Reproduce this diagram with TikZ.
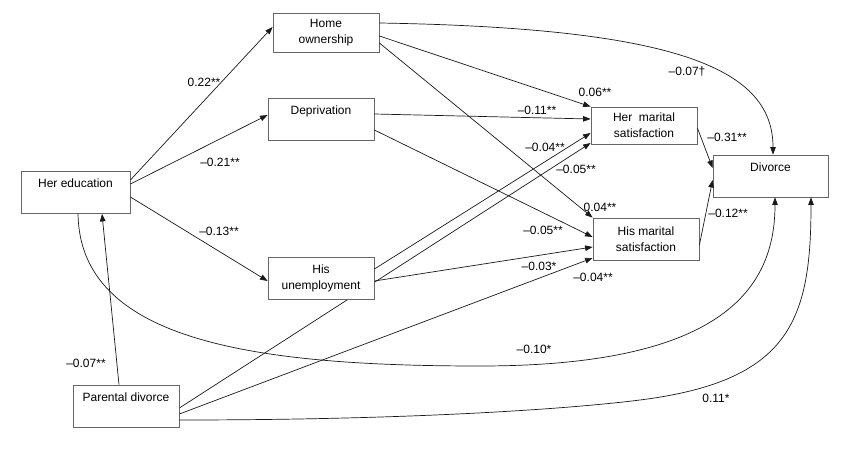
\documentclass[tikz,border=0pt]{standalone}
\usepackage{fontspec}
\setmainfont{Liberation Sans}
\usetikzlibrary{arrows.meta,backgrounds}
\begin{document}
\begin{tikzpicture}[x = 1pt, y = -1pt, >={Triangle[length = 7.5pt, width = 5.5pt]},
  every node/.style = {font = \fontsize{12}{16}\selectfont},
  onebox/.style = {draw = boxgray, fill = white, line width = 0.8pt, inner sep = 0pt, text height = 16pt, text depth = 26pt, minimum width = 106pt},
  twobox/.style = {draw = boxgray, fill = white, line width = 0.8pt, inner sep = 0pt, align = center, minimum width = 106pt, minimum height = 42pt},
  link/.style = {->, line width = 0.7pt, draw = linegray},
  coef/.style = {inner sep = 0pt}]
\definecolor{boxgray}{gray}{0.4}
\definecolor{linegray}{gray}{0.1}
\useasboundingbox (0,0) rectangle (850,452);
\node[onebox, minimum width = 109pt] (hered) at (75.5,192.5) {Her education};
\node[twobox, minimum height = 39pt] (home) at (326,32.5) {Home\\ownership};
\node[onebox] (depr) at (321,119) {Deprivation};
\node[twobox] (unemp) at (321,278) {His\\unemployment};
\node[onebox] (pardiv) at (126,406) {Parental divorce};
\node[twobox, minimum height = 37pt] (hersat) at (644,125.5) {Her\ \ marital\\satisfaction};
\node[twobox] (hissat) at (646,239) {His marital\\satisfaction};
\node[onebox, minimum width = 115pt] (divorce) at (770.5,176) {Divorce};
\draw[link] ([yshift = 12.5pt]hered.east) -- ([yshift = 5.5pt]home.west);
\draw[link] ([yshift = 8.5pt]hered.east) -- ([yshift = 4pt]depr.west);
\draw[link] ([yshift = -4.5pt]hered.east) -- ([yshift = -3pt]unemp.west);
\draw[link] ([xshift = -7pt]pardiv.north) -- ([xshift = 26.5pt]hered.south);
\draw[link] ([yshift = 9.5pt]home.east) .. controls +(301,5) and +(0,-85) .. ([xshift = 2.5pt]divorce.north);
\draw[link] ([yshift = -3.5pt]home.east) -- (hersat.north west);
\draw[link] ([yshift = -10.5pt]home.east) -- (hissat.north west);
\draw[link] ([yshift = 5pt]depr.east) -- ([yshift = 6.5pt]hersat.west);
\draw[link] ([yshift = -11pt]depr.east) -- ([yshift = 2pt]hissat.west);
\draw[link] ([yshift = 9pt]unemp.east) -- ([yshift = -7.5pt]hersat.west);
\begin{pgfonlayer}{background}
\draw[link] ([yshift = -2pt]pardiv.east) -- ([yshift = -17.5pt]hersat.west);
\end{pgfonlayer}
\draw[link] ([yshift = -3pt]unemp.east) -- ([yshift = -8pt]hissat.west);
\draw[link] ([yshift = -8pt]pardiv.east) -- ([yshift = -19pt]hissat.west);
\draw[link] ([yshift = -2.5pt]hersat.east) -- ([yshift = 8pt]divorce.west);
\draw[link] ([yshift = -6pt]hissat.east) -- ([yshift = -4pt]divorce.west);
\draw[link] ([xshift = 2.5pt]hered.south) .. controls +(2,126) and +(-230,0) .. (480,366) .. controls +(240,0) and +(0,93) .. ([xshift = 4.5pt]divorce.south);
\draw[link] ([yshift = -14pt]pardiv.east) .. controls +(221,0) and +(-80,10) .. (640,400) .. controls +(150,-19) and +(0,123) .. ([xshift = 40.5pt]divorce.south);
\node[coef] (c1) at (204,82) {0.22**};
\node[coef] (c2) at (220,162) {–0.21**};
\node[coef] (c3) at (219,231) {–0.13**};
\node[coef] (c4) at (86,363) {–0.07**};
\node[coef] (c5) at (687,72) {–0.07†};
\node[coef] (c6) at (595,92) {0.06**};
\node[coef] (c7) at (537,110) {–0.11**};
\node[coef] (c8) at (545,147) {–0.04**};
\node[coef] (c9) at (576,169) {–0.05**};
\node[coef] (c10) at (727,137) {–0.31**};
\node[coef] (c11) at (600,207) {0.04**};
\node[coef] (c12) at (728,213) {–0.12**};
\node[coef] (c13) at (543,230) {–0.05**};
\node[coef] (c14) at (539,266) {–0.03*};
\node[coef] (c15) at (593,277) {–0.04**};
\node[coef] (c16) at (534,349) {–0.10*};
\node[coef] (c17) at (716,398) {0.11*};
\end{tikzpicture}
\end{document}
